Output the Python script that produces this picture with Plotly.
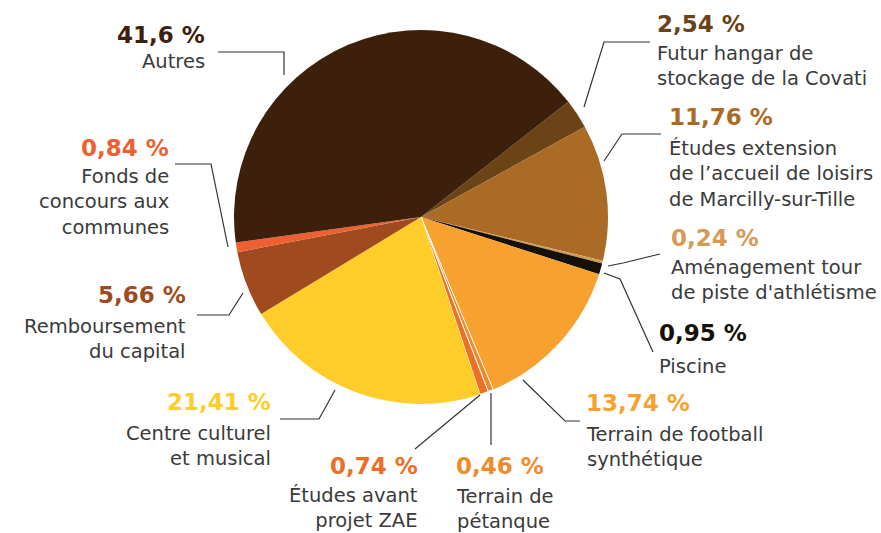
import plotly.graph_objects as go

W, H = 881, 533

categories = [
    "Futur hangar de stockage de la Covati",
    "Études extension de l’accueil de loisirs de Marcilly-sur-Tille",
    "Aménagement tour de piste d'athlétisme",
    "Piscine",
    "Terrain de football synthétique",
    "Terrain de pétanque",
    "Études avant projet ZAE",
    "Centre culturel et musical",
    "Remboursement du capital",
    "Fonds de concours aux communes",
    "Autres",
]
values = [2.54, 11.76, 0.24, 0.95, 13.74, 0.46, 0.74, 21.41, 5.66, 0.84, 41.6]
pct_labels = ["2,54 %", "11,76 %", "0,24 %", "0,95 %", "13,74 %", "0,46 %",
              "0,74 %", "21,41 %", "5,66 %", "0,84 %", "41,6 %"]
wrapped_labels = [
    "Futur hangar de<br>stockage de la Covati",
    "Études extension<br>de l’accueil de loisirs<br>de Marcilly-sur-Tille",
    "Aménagement tour<br>de piste d'athlétisme",
    "Piscine",
    "Terrain de football<br>synthétique",
    "Terrain de<br>pétanque",
    "Études avant<br>projet ZAE",
    "Centre culturel<br>et musical",
    "Remboursement<br>du capital",
    "Fonds de<br>concours aux<br>communes",
    "Autres",
]
colors = ["#6B4317", "#A96B26", "#D69A52", "#15110A", "#F7A12F", "#F08A2B",
          "#EE7025", "#FECD2A", "#A04A20", "#EE6031", "#3D200C"]
pct_colors = ["#6B4317", "#A96B26", "#D69A52", "#15110A", "#F7A12F", "#F08A2B",
              "#EE6F24", "#FECD2A", "#A04A20", "#EE6031", "#3D200C"]
border_w = [0, 0, 0, 0, 0, 1, 1, 0, 0, 0, 0]

# label layout (pixels): anchor side, x, y of percent, y of label text
label_layout = [
    ("left", 655, 24, 66),
    ("left", 667, 117, 174),
    ("left", 669, 238, 280),
    ("left", 657, 333, 366),
    ("left", 584, 403, 447),
    ("left", 454, 466, 509),
    ("right", 420, 466, 508),
    ("right", 273, 402, 446),
    ("right", 188, 295, 339),
    ("right", 171, 148, 202),
    ("right", 207, 35, 62),
]
leaders = [
    [(650, 42), (604, 42), (584, 107)],
    [(661, 134), (622, 134), (604, 161)],
    [(660, 254), (623, 263), (608, 266)],
    [(604, 273), (620, 279), (653, 352)],
    [(580, 421), (565, 421), (523, 380)],
    [(491, 393), (491, 445)],
    [(415, 449), (480, 395)],
    [(280, 419), (319, 419), (335, 390)],
    [(197, 315), (229, 315), (243, 293)],
    [(175, 164), (211, 164), (228, 247)],
    [(218, 52), (284, 52), (284, 75)],
]

cx, cy, r = 421, 217, 187

fig = go.Figure(go.Pie(
    labels=categories, values=values, sort=False, direction="clockwise",
    rotation=52, textinfo="none", hoverinfo="skip", showlegend=False,
    marker=dict(colors=colors, line=dict(color="white", width=border_w)),
    domain=dict(x=[(cx - r) / W, (cx + r) / W], y=[1 - (cy + r) / H, 1 - (cy - r) / H]),
))

annotations = []
for i, (side, px, py, ly) in enumerate(label_layout):
    annotations.append(dict(
        x=px / W, y=1 - py / H, xref="paper", yref="paper", xanchor=side, yanchor="middle",
        text="<b>" + pct_labels[i] + "</b>", showarrow=False, align=side,
        font=dict(family="DejaVu Sans", size=23, color=pct_colors[i]),
    ))
    annotations.append(dict(
        x=px / W, y=1 - ly / H, xref="paper", yref="paper", xanchor=side, yanchor="middle",
        text=wrapped_labels[i], showarrow=False, align=side,
        font=dict(family="DejaVu Sans", size=19.5, color="#3A3A3A"),
    ))

shapes = []
for pts in leaders:
    path = "M " + " L ".join(f"{x / W:.5f},{1 - y / H:.5f}" for x, y in pts)
    shapes.append(dict(type="path", xref="paper", yref="paper", path=path,
                       line=dict(color="#333333", width=1.2)))

fig.update_layout(
    width=W, height=H, margin=dict(l=0, r=0, t=0, b=0),
    paper_bgcolor="white", plot_bgcolor="white",
    annotations=annotations, shapes=shapes,
)
fig.write_html("out.html", config={"displayModeBar": False},
               post_script="document.body.style.margin='0';document.body.style.overflow='hidden';")
